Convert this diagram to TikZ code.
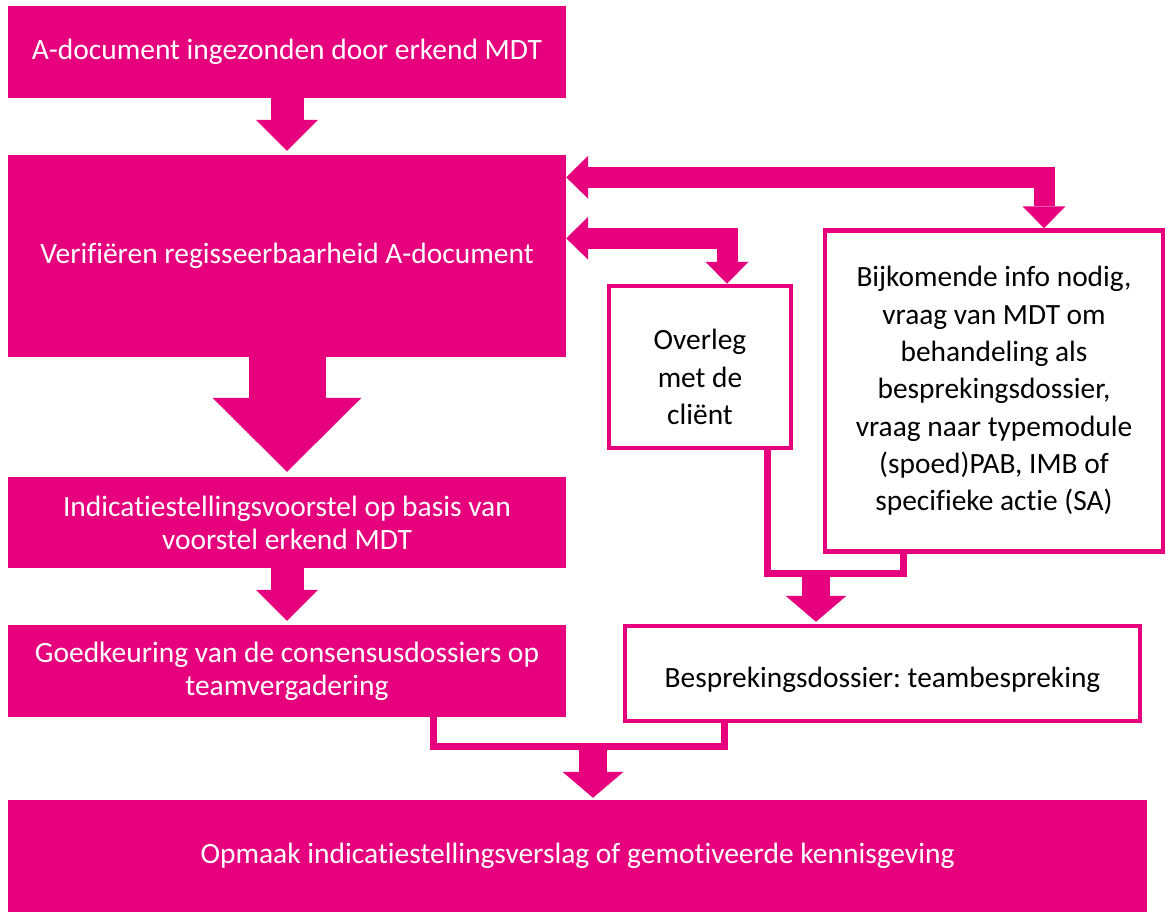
\documentclass[tikz,border=0pt]{standalone}
\usepackage{fontspec}
\setmainfont{Carlito}[Ligatures=CommonOff]
\usetikzlibrary{arrows.meta}

\definecolor{roze}{RGB}{230,0,126}

\tikzset{
  rozeblok/.style={fill=roze, text=white, minimum width=558bp, align=center,
    inner sep=0pt, font=\fontsize{29.6}{33}\selectfont},
  witblok/.style={draw=roze, line width=4.5bp, fill=white, text=black, align=center,
    inner sep=0pt, font=\fontsize{29.5}{37.5}\selectfont},
  wittekst/.style={align=center, text=black, inner sep=0pt, font=\fontsize{29.5}{37.5}\selectfont},
  pijlklein/.style={draw=roze, line width=33bp,
    -{Triangle[width=62bp,length=31bp,line width=0pt]}, shorten >=4bp},
  pijlsmal/.style={draw=roze, line width=28bp,
    -{Triangle[width=61bp,length=26bp,line width=0pt]}, shorten >=2bp},
  pijlgroot/.style={draw=roze, line width=77bp,
    -{Triangle[width=149bp,length=74bp,line width=0pt]}, shorten >=5bp},
  pijldubbel/.style={draw=roze, line width=21bp, line join=miter,
    {Triangle[width=43bp,length=22bp,line width=0pt]}-{Triangle[width=43bp,length=22bp,line width=0pt]}},
  buis/.style={draw=roze, line width=7bp, line join=miter}
}

\begin{document}
\frenchspacing
\begin{tikzpicture}[x=1bp,y=-1bp]
    \useasboundingbox[fill=white] (0,0) rectangle (1167,913);
    % linkerkolom
    \node[rozeblok, minimum height=92bp] (indien) at (287,52) {A-document ingezonden door erkend MDT};
    \node[rozeblok, minimum height=202bp] (verif) at (287,256) {Verifiëren regisseerbaarheid A-document};
    \node[rozeblok, minimum height=91bp] (voorstel) at (287,522.5) {Indicatiestellingsvoorstel op basis van\\voorstel erkend MDT};
    \node[rozeblok, minimum height=92bp] (goedk) at (287,671) {Goedkeuring van de consensusdossiers op\\teamvergadering};
    \node[rozeblok, minimum width=1139bp, minimum height=112bp] (opmaak) at (577.5,856) {Opmaak indicatiestellingsverslag of gemotiveerde kennisgeving};
    % rechterkolom
    \node[witblok, minimum width=182bp, minimum height=162bp,
      label={[wittekst, yshift=-10bp]center:Overleg\\met de\\cliënt}] (overleg) at (700,367) {};
    \node[witblok, minimum width=338bp, minimum height=321bp] (info) at (994,391) {Bijkomende info nodig,\\vraag van MDT om\\behandeling als\\besprekingsdossier,\\vraag naar typemodule\\(spoed)PAB, IMB of\\specifieke actie (SA)};
    \node[witblok, minimum width=515bp, minimum height=95bp,
      label={[wittekst, yshift=-6bp]center:Besprekingsdossier: teambespreking}] (bespr) at (882.5,673.5) {};
    % pijlen links
    \draw[pijlklein] (indien.south) -- (verif.north);
    \draw[pijlgroot] (verif.south) -- (voorstel.north);
    \draw[pijlklein] (voorstel.south) -- (goedk.north);
    % heen en terug
    \draw[pijldubbel] ([yshift=-22.5bp]verif.north east) -| ([xshift=50bp]info.north);
    \draw[pijldubbel] ([yshift=-83.5bp]verif.north east) -| ([xshift=27bp]overleg.north);
    % samenkomen
    \coordinate (knik1) at (816,573);
    \coordinate (knik2) at (593,746);
    \draw[buis] ([xshift=67bp]overleg.south) |- (knik1) -| ([xshift=-91bp]info.south);
    \draw[buis] ([xshift=146bp]goedk.south) |- (knik2) -| ([xshift=-158.5bp]bespr.south);
    \draw[pijlsmal] (knik1) -- (knik1 |- bespr.north);
    \draw[pijlsmal] (knik2) -- (knik2 |- opmaak.north);
\end{tikzpicture}
\end{document}
